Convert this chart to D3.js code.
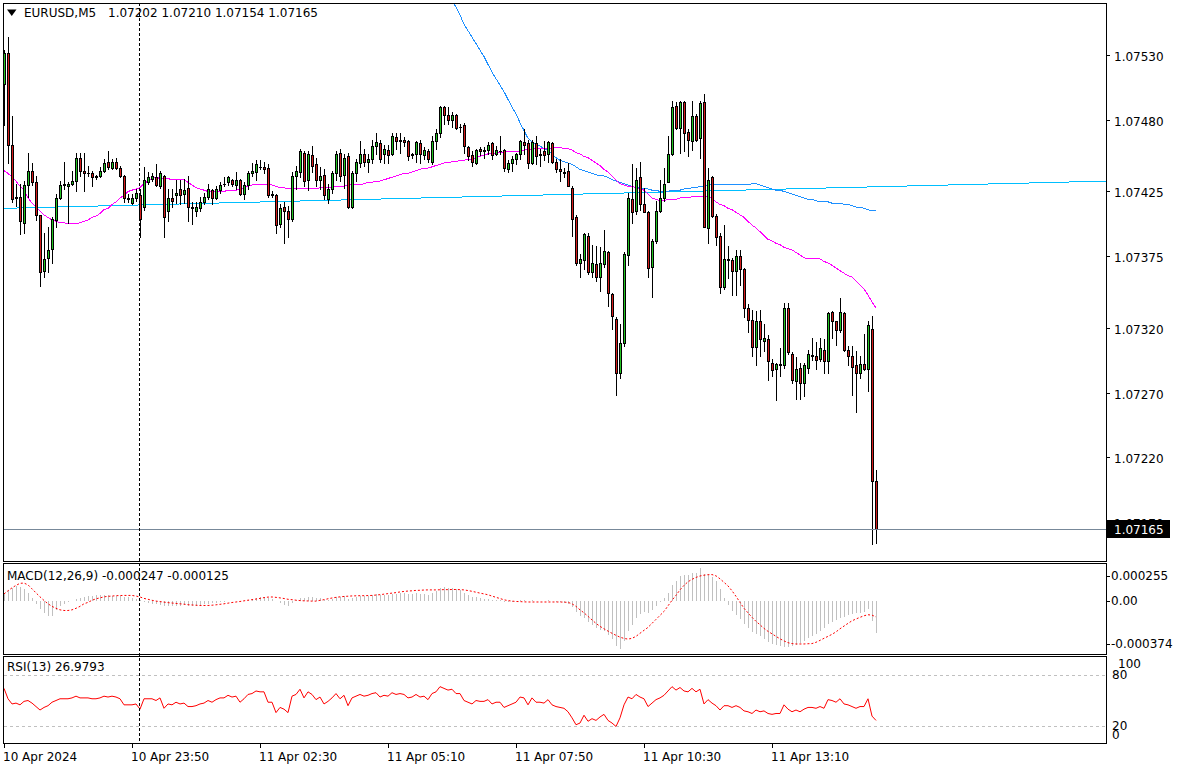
<!DOCTYPE html>
<html><head><meta charset="utf-8">
<script src="https://cdn.jsdelivr.net/npm/d3@7"></script>
<style>
body{margin:0;background:#fff}
svg{display:block}
text{font-family:"DejaVu Sans",sans-serif;font-size:12px;fill:#000}
</style></head>
<body><svg id="c" width="1178" height="771"></svg>
<script>
// ---------------- DATA ----------------
const symbolTitle = "EURUSD,M5";
const headerValues = "1.07202 1.07210 1.07154 1.07165";
const macdTitle = "MACD(12,26,9) -0.000247 -0.000125";
const rsiTitle = "RSI(13) 26.9793";

const open = [1.07508,1.07532,1.07461,1.07420,1.07421,1.07401,1.07430,1.07441,1.07432,1.07407,
1.07364,1.07374,1.07381,1.07403,1.07420,1.07430,1.07429,1.07431,1.07433,1.07451,
1.07441,1.07439,1.07439,1.07436,1.07437,1.07441,1.07448,1.07443,1.07448,1.07443,
1.07437,1.07420,1.07416,1.07420,1.07422,1.07413,1.07432,1.07435,1.07436,1.07429,
1.07437,1.07410,1.07420,1.07422,1.07427,1.07423,1.07428,1.07413,1.07410,1.07412,
1.07417,1.07421,1.07426,1.07420,1.07426,1.07431,1.07432,1.07434,1.07430,1.07434,
1.07423,1.07430,1.07439,1.07440,1.07444,1.07444,1.07443,1.07422,1.07422,1.07400,
1.07413,1.07410,1.07404,1.07437,1.07440,1.07455,1.07434,1.07453,1.07446,1.07434,
1.07438,1.07419,1.07427,1.07439,1.07455,1.07438,1.07452,1.07413,1.07439,1.07447,
1.07454,1.07448,1.07450,1.07460,1.07462,1.07454,1.07457,1.07454,1.07467,1.07464,
1.07465,1.07464,1.07453,1.07454,1.07462,1.07453,1.07456,1.07448,1.07464,1.07470,
1.07490,1.07484,1.07480,1.07484,1.07475,1.07476,1.07459,1.07453,1.07447,1.07458,
1.07456,1.07457,1.07462,1.07454,1.07456,1.07457,1.07442,1.07447,1.07450,1.07454,
1.07463,1.07462,1.07447,1.07462,1.07454,1.07456,1.07454,1.07462,1.07448,1.07442,
1.07440,1.07441,1.07428,1.07405,1.07370,1.07372,1.07391,1.07363,1.07369,1.07359,
1.07369,1.07378,1.07346,1.07327,1.07285,1.07308,1.07376,1.07419,1.07410,1.07436,
1.07415,1.07409,1.07367,1.07387,1.07410,1.07420,1.07432,1.07454,1.07491,1.07474,
1.07494,1.07471,1.07464,1.07483,1.07466,1.07494,1.07397,1.07436,1.07406,1.07391,
1.07351,1.07373,1.07372,1.07364,1.07375,1.07365,1.07335,1.07326,1.07305,1.07325,
1.07310,1.07311,1.07293,1.07288,1.07291,1.07291,1.07335,1.07300,1.07279,1.07289,
1.07277,1.07289,1.07299,1.07298,1.07296,1.07303,1.07294,1.07332,1.07325,1.07318,
1.07331,1.07303,1.07298,1.07291,1.07285,1.07292,1.07288,1.07319,1.07202];

const high = [1.07534,1.07544,1.07483,1.07431,1.07431,1.07433,1.07455,1.07447,1.07437,1.07407,
1.07393,1.07398,1.07405,1.07423,1.07433,1.07448,1.07432,1.07441,1.07455,1.07455,
1.07455,1.07445,1.07441,1.07438,1.07444,1.07450,1.07456,1.07450,1.07451,1.07445,
1.07438,1.07423,1.07423,1.07427,1.07427,1.07444,1.07440,1.07439,1.07446,1.07441,
1.07438,1.07427,1.07427,1.07434,1.07434,1.07435,1.07437,1.07417,1.07417,1.07421,
1.07424,1.07431,1.07427,1.07429,1.07432,1.07436,1.07437,1.07435,1.07440,1.07435,
1.07432,1.07441,1.07447,1.07449,1.07449,1.07448,1.07446,1.07425,1.07423,1.07415,
1.07417,1.07414,1.07440,1.07445,1.07458,1.07456,1.07456,1.07460,1.07451,1.07444,
1.07442,1.07431,1.07441,1.07456,1.07458,1.07454,1.07455,1.07441,1.07450,1.07464,
1.07458,1.07454,1.07465,1.07470,1.07465,1.07461,1.07461,1.07470,1.07470,1.07470,
1.07467,1.07465,1.07455,1.07464,1.07465,1.07459,1.07458,1.07468,1.07473,1.07491,
1.07491,1.07490,1.07486,1.07485,1.07477,1.07478,1.07460,1.07456,1.07458,1.07459,
1.07459,1.07463,1.07463,1.07460,1.07468,1.07458,1.07449,1.07452,1.07455,1.07465,
1.07473,1.07465,1.07465,1.07468,1.07458,1.07464,1.07464,1.07463,1.07450,1.07450,
1.07443,1.07447,1.07429,1.07407,1.07377,1.07393,1.07393,1.07384,1.07383,1.07382,
1.07395,1.07379,1.07347,1.07328,1.07323,1.07378,1.07424,1.07446,1.07443,1.07448,
1.07428,1.07410,1.07388,1.07418,1.07434,1.07443,1.07468,1.07495,1.07494,1.07495,
1.07495,1.07473,1.07495,1.07485,1.07495,1.07500,1.07443,1.07437,1.07408,1.07393,
1.07399,1.07383,1.07374,1.07380,1.07380,1.07366,1.07338,1.07334,1.07333,1.07334,
1.07323,1.07314,1.07296,1.07293,1.07304,1.07339,1.07339,1.07301,1.07297,1.07293,
1.07293,1.07303,1.07312,1.07309,1.07312,1.07311,1.07332,1.07333,1.07325,1.07343,
1.07332,1.07306,1.07306,1.07302,1.07298,1.07315,1.07325,1.07329,1.07210];

const low = [1.07476,1.07447,1.07417,1.07414,1.07392,1.07393,1.07421,1.07430,1.07403,1.07352,
1.07359,1.07363,1.07370,1.07398,1.07419,1.07427,1.07401,1.07430,1.07425,1.07437,
1.07425,1.07437,1.07429,1.07435,1.07436,1.07440,1.07442,1.07442,1.07442,1.07436,
1.07417,1.07417,1.07415,1.07418,1.07390,1.07411,1.07431,1.07433,1.07429,1.07428,
1.07390,1.07402,1.07413,1.07416,1.07415,1.07416,1.07402,1.07400,1.07406,1.07410,
1.07415,1.07419,1.07415,1.07419,1.07424,1.07429,1.07430,1.07429,1.07427,1.07422,
1.07419,1.07427,1.07437,1.07434,1.07442,1.07439,1.07421,1.07421,1.07393,1.07398,
1.07385,1.07390,1.07402,1.07427,1.07436,1.07429,1.07426,1.07440,1.07429,1.07427,
1.07419,1.07416,1.07424,1.07434,1.07433,1.07428,1.07412,1.07412,1.07433,1.07444,
1.07445,1.07440,1.07447,1.07454,1.07448,1.07447,1.07447,1.07453,1.07458,1.07455,
1.07460,1.07449,1.07451,1.07448,1.07447,1.07450,1.07448,1.07446,1.07458,1.07467,
1.07477,1.07477,1.07475,1.07473,1.07471,1.07455,1.07449,1.07445,1.07446,1.07453,
1.07451,1.07454,1.07450,1.07453,1.07454,1.07441,1.07440,1.07441,1.07446,1.07450,
1.07454,1.07443,1.07446,1.07446,1.07445,1.07449,1.07448,1.07447,1.07440,1.07433,
1.07436,1.07429,1.07391,1.07368,1.07359,1.07365,1.07361,1.07359,1.07356,1.07348,
1.07367,1.07337,1.07319,1.07268,1.07281,1.07306,1.07368,1.07401,1.07408,1.07411,
1.07409,1.07359,1.07344,1.07385,1.07409,1.07418,1.07432,1.07453,1.07473,1.07455,
1.07456,1.07452,1.07457,1.07464,1.07451,1.07398,1.07385,1.07405,1.07384,1.07347,
1.07350,1.07358,1.07345,1.07345,1.07353,1.07328,1.07317,1.07298,1.07291,1.07298,
1.07302,1.07280,1.07283,1.07264,1.07283,1.07289,1.07300,1.07277,1.07265,1.07265,
1.07267,1.07285,1.07295,1.07288,1.07294,1.07285,1.07285,1.07312,1.07307,1.07317,
1.07302,1.07291,1.07268,1.07255,1.07281,1.07287,1.07271,1.07153,1.07154];

const close = [1.07532,1.07461,1.07419,1.07421,1.07402,1.07430,1.07441,1.07432,1.07407,1.07363,
1.07373,1.07380,1.07404,1.07420,1.07430,1.07431,1.07431,1.07433,1.07451,1.07441,
1.07439,1.07439,1.07436,1.07437,1.07441,1.07447,1.07444,1.07448,1.07443,1.07437,
1.07420,1.07419,1.07420,1.07424,1.07404,1.07434,1.07436,1.07437,1.07430,1.07439,
1.07405,1.07420,1.07418,1.07424,1.07422,1.07426,1.07413,1.07412,1.07413,1.07417,
1.07421,1.07427,1.07420,1.07427,1.07430,1.07431,1.07436,1.07431,1.07434,1.07423,
1.07430,1.07439,1.07441,1.07446,1.07444,1.07442,1.07422,1.07423,1.07399,1.07412,
1.07410,1.07404,1.07437,1.07441,1.07456,1.07433,1.07454,1.07445,1.07434,1.07437,
1.07422,1.07427,1.07439,1.07454,1.07437,1.07451,1.07413,1.07439,1.07448,1.07454,
1.07448,1.07450,1.07460,1.07463,1.07450,1.07458,1.07453,1.07468,1.07464,1.07465,
1.07463,1.07452,1.07454,1.07463,1.07454,1.07457,1.07450,1.07464,1.07470,1.07490,
1.07484,1.07480,1.07484,1.07474,1.07475,1.07460,1.07452,1.07448,1.07457,1.07456,
1.07457,1.07461,1.07453,1.07457,1.07456,1.07443,1.07447,1.07450,1.07454,1.07464,
1.07461,1.07447,1.07463,1.07452,1.07453,1.07453,1.07463,1.07448,1.07442,1.07441,
1.07439,1.07429,1.07404,1.07370,1.07373,1.07392,1.07363,1.07370,1.07359,1.07370,
1.07379,1.07347,1.07329,1.07285,1.07308,1.07377,1.07420,1.07409,1.07434,1.07415,
1.07409,1.07366,1.07387,1.07410,1.07420,1.07431,1.07454,1.07490,1.07474,1.07494,
1.07470,1.07465,1.07483,1.07465,1.07493,1.07398,1.07434,1.07406,1.07390,1.07351,
1.07373,1.07372,1.07364,1.07375,1.07365,1.07335,1.07326,1.07305,1.07325,1.07311,
1.07312,1.07294,1.07287,1.07292,1.07292,1.07335,1.07301,1.07280,1.07288,1.07277,
1.07291,1.07300,1.07298,1.07295,1.07304,1.07294,1.07331,1.07325,1.07318,1.07332,
1.07303,1.07298,1.07290,1.07285,1.07292,1.07288,1.07322,1.07202,1.07165];

const maMagenta = [1.07441,1.07439,1.07436,1.07433,1.07429,1.07426,1.07420,1.07416,1.07413,1.07410,
1.07407,1.07405,1.07403,1.07402,1.07401,1.07401,1.07400,1.07400,1.07400,1.07401,
1.07402,1.07403,1.07405,1.07406,1.07408,1.07411,1.07412,1.07415,1.07417,1.07420,
1.07422,1.07425,1.07426,1.07427,1.07428,1.07431,1.07433,1.07435,1.07436,1.07435,
1.07435,1.07435,1.07434,1.07434,1.07434,1.07434,1.07432,1.07430,1.07428,1.07427,
1.07426,1.07425,1.07425,1.07425,1.07425,1.07425,1.07426,1.07426,1.07426,1.07427,
1.07428,1.07429,1.07430,1.07430,1.07430,1.07430,1.07430,1.07430,1.07429,1.07428,
1.07428,1.07427,1.07427,1.07427,1.07427,1.07427,1.07427,1.07427,1.07427,1.07428,
1.07428,1.07428,1.07428,1.07429,1.07429,1.07429,1.07430,1.07430,1.07430,1.07430,
1.07431,1.07432,1.07432,1.07433,1.07433,1.07434,1.07435,1.07436,1.07437,1.07438,
1.07439,1.07439,1.07440,1.07441,1.07442,1.07443,1.07443,1.07444,1.07445,1.07446,
1.07447,1.07447,1.07448,1.07448,1.07449,1.07449,1.07450,1.07450,1.07451,1.07452,
1.07453,1.07454,1.07454,1.07455,1.07455,1.07455,1.07456,1.07456,1.07456,1.07456,
1.07457,1.07457,1.07458,1.07458,1.07458,1.07458,1.07458,1.07458,1.07459,1.07459,
1.07458,1.07458,1.07457,1.07455,1.07454,1.07452,1.07451,1.07449,1.07447,1.07445,
1.07442,1.07440,1.07437,1.07434,1.07431,1.07430,1.07429,1.07429,1.07428,1.07427,
1.07426,1.07423,1.07420,1.07419,1.07418,1.07418,1.07419,1.07419,1.07419,1.07420,
1.07420,1.07420,1.07421,1.07421,1.07421,1.07421,1.07421,1.07420,1.07417,1.07415,
1.07414,1.07412,1.07411,1.07409,1.07407,1.07405,1.07402,1.07399,1.07397,1.07394,
1.07391,1.07388,1.07387,1.07385,1.07384,1.07382,1.07381,1.07380,1.07378,1.07376,
1.07374,1.07373,1.07373,1.07373,1.07373,1.07371,1.07370,1.07368,1.07366,1.07364,
1.07362,1.07360,1.07359,1.07356,1.07353,1.07350,1.07345,1.07340,1.07335];

const maBlueStart = 111;
const maBlue = [1.07579,1.07573,1.07567,1.07561,1.07554,1.07549,1.07544,1.07539,1.07534,1.07529,
1.07523,1.07517,1.07512,1.07507,1.07502,1.07496,1.07490,1.07485,1.07478,1.07472,
1.07466,1.07463,1.07461,1.07460,1.07458,1.07457,1.07454,1.07451,1.07449,1.07448,
1.07447,1.07446,1.07444,1.07442,1.07441,1.07440,1.07439,1.07438,1.07437,1.07437,
1.07436,1.07434,1.07433,1.07432,1.07431,1.07430,1.07429,1.07428,1.07428,1.07427,
1.07427,1.07426,1.07426,1.07425,1.07425,1.07425,1.07426,1.07426,1.07426,1.07427,
1.07427,1.07428,1.07428,1.07429,1.07429,1.07430,1.07430,1.07430,1.07430,1.07430,
1.07430,1.07430,1.07430,1.07430,1.07430,1.07430,1.07431,1.07431,1.07430,1.07429,
1.07428,1.07427,1.07426,1.07426,1.07425,1.07424,1.07423,1.07422,1.07421,1.07420,
1.07419,1.07419,1.07418,1.07417,1.07417,1.07417,1.07416,1.07416,1.07416,1.07415,
1.07415,1.07414,1.07413,1.07413,1.07412,1.07411,1.07410,1.07410];

// trendline object (bar index, price)
const trendBars = [-0.25, 275.5];
const trendPrices = [1.07412, 1.07433];

const macdMain = [62e-6,85e-6,101e-6,116e-6,109e-6,93e-6,62e-6,23e-6,-23e-6,-62e-6,
-93e-6,-116e-6,-116e-6,-70e-6,-39e-6,-23e-6,-8e-6,0,16e-6,23e-6,
31e-6,39e-6,39e-6,47e-6,47e-6,47e-6,47e-6,39e-6,39e-6,39e-6,
31e-6,31e-6,23e-6,16e-6,8e-6,-8e-6,-16e-6,-23e-6,-23e-6,-31e-6,
-39e-6,-39e-6,-39e-6,-39e-6,-39e-6,-31e-6,-39e-6,-39e-6,-39e-6,-31e-6,
-23e-6,-23e-6,-16e-6,-16e-6,-8e-6,-8e-6,0,2e-6,-2e-6,1e-6,
0,8e-6,16e-6,23e-6,31e-6,31e-6,23e-6,16e-6,0,-16e-6,
-31e-6,-39e-6,-16e-6,8e-6,23e-6,23e-6,31e-6,31e-6,23e-6,23e-6,
8e-6,8e-6,16e-6,31e-6,31e-6,39e-6,16e-6,23e-6,31e-6,39e-6,
39e-6,39e-6,47e-6,54e-6,47e-6,47e-6,47e-6,54e-6,54e-6,62e-6,
62e-6,54e-6,54e-6,62e-6,54e-6,54e-6,47e-6,62e-6,78e-6,101e-6,
109e-6,101e-6,101e-6,93e-6,85e-6,62e-6,47e-6,31e-6,31e-6,23e-6,
16e-6,16e-6,8e-6,8e-6,8e-6,-8e-6,-8e-6,-8e-6,0,8e-6,
8e-6,0,8e-6,1e-6,-1e-6,0,8e-6,0,-8e-6,-8e-6,
-16e-6,-23e-6,-47e-6,-85e-6,-116e-6,-132e-6,-163e-6,-186e-6,-210e-6,-225e-6,
-233e-6,-264e-6,-295e-6,-349e-6,-374e-6,-311e-6,-233e-6,-186e-6,-132e-6,-101e-6,
-85e-6,-93e-6,-70e-6,-39e-6,-8e-6,23e-6,62e-6,124e-6,155e-6,194e-6,
202e-6,202e-6,217e-6,217e-6,255e-6,210e-6,202e-6,186e-6,155e-6,93e-6,
23e-6,-31e-6,-78e-6,-109e-6,-140e-6,-179e-6,-210e-6,-241e-6,-256e-6,-272e-6,
-295e-6,-318e-6,-334e-6,-342e-6,-349e-6,-360e-6,-357e-6,-349e-6,-342e-6,-326e-6,
-311e-6,-287e-6,-272e-6,-256e-6,-233e-6,-210e-6,-179e-6,-163e-6,-148e-6,-132e-6,
-124e-6,-109e-6,-101e-6,-93e-6,-93e-6,-85e-6,-62e-6,-155e-6,-247e-6];

const macdSignal = [54e-6,78e-6,101e-6,120e-6,136e-6,138e-6,124e-6,93e-6,62e-6,31e-6,
3e-6,-23e-6,-43e-6,-58e-6,-70e-6,-75e-6,-75e-6,-70e-6,-58e-6,-43e-6,
-23e-6,-12e-6,4e-6,16e-6,23e-6,31e-6,35e-6,37e-6,40e-6,41e-6,
42e-6,42e-6,42e-6,37e-6,30e-6,19e-6,12e-6,4e-6,-2e-6,-6e-6,
-10e-6,-14e-6,-17e-6,-20e-6,-23e-6,-26e-6,-30e-6,-32e-6,-34e-6,-36e-6,
-36e-6,-36e-6,-34e-6,-31e-6,-27e-6,-23e-6,-18e-6,-13e-6,-9e-6,-5e-6,
0,5e-6,9e-6,14e-6,19e-6,25e-6,29e-6,30e-6,27e-6,23e-6,
18e-6,12e-6,9e-6,5e-6,2e-6,0,-1e-6,-2e-6,-2e-6,4e-6,
9e-6,16e-6,22e-6,27e-6,31e-6,34e-6,36e-6,38e-6,39e-6,40e-6,
40e-6,41e-6,42e-6,45e-6,48e-6,52e-6,56e-6,60e-6,64e-6,69e-6,
73e-6,76e-6,78e-6,81e-6,82e-6,84e-6,85e-6,85e-6,85e-6,86e-6,
87e-6,87e-6,88e-6,88e-6,87e-6,85e-6,80e-6,74e-6,67e-6,60e-6,
54e-6,47e-6,37e-6,27e-6,18e-6,8e-6,2e-6,-2e-6,-5e-6,-6e-6,
-8e-6,-9e-6,-9e-6,-9e-6,-9e-6,-9e-6,-9e-6,-9e-6,-9e-6,-9e-6,
-10e-6,-12e-6,-23e-6,-43e-6,-70e-6,-93e-6,-120e-6,-148e-6,-175e-6,-198e-6,
-217e-6,-235e-6,-252e-6,-268e-6,-282e-6,-292e-6,-297e-6,-291e-6,-276e-6,-252e-6,
-229e-6,-206e-6,-175e-6,-144e-6,-113e-6,-82e-6,-39e-6,4e-6,43e-6,85e-6,
120e-6,148e-6,167e-6,182e-6,193e-6,199e-6,203e-6,204e-6,194e-6,171e-6,
144e-6,116e-6,78e-6,35e-6,-12e-6,-58e-6,-93e-6,-128e-6,-159e-6,-186e-6,
-214e-6,-237e-6,-256e-6,-276e-6,-295e-6,-311e-6,-325e-6,-332e-6,-335e-6,-335e-6,
-335e-6,-333e-6,-332e-6,-322e-6,-307e-6,-291e-6,-276e-6,-260e-6,-241e-6,-217e-6,
-196e-6,-175e-6,-155e-6,-141e-6,-128e-6,-116e-6,-108e-6,-111e-6,-125e-6];

const rsi = [64,52,46,47,45,49,50,47,43,39,
42,44,48,50,52,52,52,53,55,53,
53,53,52,52,53,55,54,55,54,52,
45,45,45,46,40,52,52,52,50,53,
41,46,45,48,46,47,43,43,44,46,
47,50,48,51,53,53,56,54,55,48,
52,57,58,61,60,60,48,48,36,42,
40,36,55,57,63,53,60,57,51,54,
46,49,53,58,52,56,44,53,55,57,
55,56,58,59,54,56,55,59,57,58,
57,53,54,57,54,55,51,58,60,66,
64,62,63,58,58,50,48,46,50,49,
49,51,46,48,48,42,44,46,48,54,
53,45,53,48,48,47,51,45,43,42,
41,37,30,22,24,33,26,29,27,31,
34,27,24,20,30,45,54,52,57,54,
52,43,47,51,53,56,61,66,62,65,
61,60,64,60,63,46,51,47,44,39,
44,44,42,44,42,38,37,35,39,37,
38,35,34,35,35,45,40,37,39,37,
40,42,42,41,43,41,51,50,48,52,
46,45,43,41,43,43,52,32,26.9793];

const priceTicks = [1.07530,1.07480,1.07425,1.07375,1.07320,1.07270,1.07220,1.07170];
const currentPrice = 1.07165;
const macdTickLabels = ["0.000255","0.00","-0.000374"];
const macdRange = [-0.000374, 0.000255];
const rsiLevels = [80, 20];
const rsiTickLabels = ["100","80","20","0"];
const timeTickBars = [0,32,64,96,128,160,192];
const timeLabels = ["10 Apr 2024","10 Apr 23:50","11 Apr 02:30","11 Apr 05:10","11 Apr 07:50","11 Apr 10:30","11 Apr 13:10"];
const separatorBar = 34;

// ---------------- DRAW ----------------
const svg = d3.select("#c");
const L = 3, R = 1106;
const panels = {main:[3,561], macd:[563,654], rsi:[656,743]};

const x = d3.scaleLinear().domain([0, 275.5]).range([4, 1106]);
const yMain = d3.scaleLinear().domain([1.07530, 1.07165]).range([55.3, 528.7]);
const yMacd = d3.scaleLinear().domain(macdRange).range([649, 568]);
const yRsi = d3.scaleLinear().domain([0, 100]).range([743.8, 657.2]);

const defs = svg.append("defs");
function clip(id, y0, y1){
  defs.append("clipPath").attr("id", id).append("rect")
    .attr("x", L + 1).attr("y", y0 + 1).attr("width", R - L - 1).attr("height", y1 - y0 - 1);
}
clip("cm", ...panels.main); clip("cd", ...panels.macd); clip("cr", ...panels.rsi);

svg.append("rect").attr("width",1178).attr("height",771).attr("fill","#fff");

// ---- main panel ----
const gm = svg.append("g").attr("clip-path","url(#cm)");

// trendline
gm.append("path")
  .attr("d", d3.line()([[x(trendBars[0]), yMain(trendPrices[0])],[x(trendBars[1]), yMain(trendPrices[1])]]))
  .attr("stroke","#00bfff").attr("fill","none").attr("stroke-width",1).attr("shape-rendering","crispEdges");

// blue MA
gm.append("path").datum(maBlue)
  .attr("d", d3.line().x((d,i)=>x(i+maBlueStart)).y(d=>yMain(d)))
  .attr("stroke","#1e90ff").attr("fill","none").attr("stroke-width",1).attr("shape-rendering","crispEdges");

// magenta MA
gm.append("path").datum(maMagenta)
  .attr("d", d3.line().x((d,i)=>x(i)).y(d=>yMain(d)))
  .attr("stroke","#ff00ff").attr("fill","none").attr("stroke-width",1).attr("shape-rendering","crispEdges");

// candles
const candles = d3.range(open.length).map(i=>({i,o:open[i],h:high[i],l:low[i],c:close[i]}));
const cg = gm.append("g").attr("shape-rendering","crispEdges");
candles.forEach(d=>{
  const cx = Math.round(x(d.i));
  const yh = Math.round(yMain(d.h)), yl = Math.round(yMain(d.l));
  cg.append("rect").attr("x",cx).attr("y",yh).attr("width",1).attr("height",yl-yh+1).attr("fill","#000");
  const top = Math.round(yMain(Math.max(d.o,d.c))), bot = Math.round(yMain(Math.min(d.o,d.c)));
  cg.append("rect").attr("x",cx-1).attr("y",top).attr("width",3).attr("height",Math.max(1,bot-top+1)).attr("fill","#000");
  if (bot - top >= 2) {
    cg.append("rect").attr("x",cx).attr("y",top+1).attr("width",1).attr("height",bot-top-1)
      .attr("fill", d.c > d.o ? "#22c322" : "#d41c1c");
  }
});

// current price line
const cpY = Math.round(yMain(currentPrice)) + 0.5;
svg.append("line").attr("x1",L).attr("x2",R).attr("y1",cpY).attr("y2",cpY)
  .attr("stroke","#778899").attr("stroke-width",1);

// ---- MACD panel ----
const gd = svg.append("g").attr("clip-path","url(#cd)");
const zeroY = yMacd(0);
gd.append("g").attr("shape-rendering","crispEdges").selectAll("line").data(macdMain).join("line")
  .attr("x1",(d,i)=>Math.round(x(i))+0.5).attr("x2",(d,i)=>Math.round(x(i))+0.5)
  .attr("y1",zeroY).attr("y2",d=>yMacd(d))
  .attr("stroke","#c0c0c0").attr("stroke-width",1);
gd.append("path").datum(macdSignal)
  .attr("d", d3.line().x((d,i)=>x(i)).y(d=>yMacd(d)))
  .attr("stroke","#ff0000").attr("fill","none").attr("stroke-width",1).attr("stroke-dasharray","2,2");

// ---- RSI panel ----
const gr = svg.append("g").attr("clip-path","url(#cr)");
rsiLevels.forEach(v=>{
  const yy = Math.round(yRsi(v)) + 0.5;
  svg.append("line").attr("x1",L+1).attr("x2",R).attr("y1",yy).attr("y2",yy)
    .attr("stroke","#c0c0c0").attr("stroke-dasharray","3,3").attr("stroke-width",1);
});
gr.append("path").datum(rsi)
  .attr("d", d3.line().x((d,i)=>x(i)).y(d=>yRsi(d)))
  .attr("stroke","#ff0000").attr("fill","none").attr("stroke-width",1);

// ---- separator ----
const sx = Math.round(x(separatorBar)) - 0.5;
svg.append("line").attr("x1",sx).attr("x2",sx).attr("y1",3).attr("y2",743)
  .attr("stroke","#000").attr("stroke-width",1).attr("stroke-dasharray","3,2");

// ---- frames ----
Object.values(panels).forEach(([y0,y1])=>{
  svg.append("rect").attr("x",L+0.5).attr("y",y0+0.5).attr("width",R-L).attr("height",y1-y0)
    .attr("fill","none").attr("stroke","#000").attr("stroke-width",1);
});

// ---- price axis ----
const ax = svg.append("g");
priceTicks.forEach(p=>{
  const yy = Math.round(yMain(p)) + 0.5;
  ax.append("line").attr("x1",R).attr("x2",R+4).attr("y1",yy).attr("y2",yy).attr("stroke","#000");
  ax.append("text").attr("x",1114).attr("y",yy+1.5).attr("dy","0.35em").text(p.toFixed(5));
});
// current price box
ax.append("rect").attr("x",1107).attr("y",Math.round(yMain(currentPrice))-9).attr("width",63).attr("height",18).attr("fill","#000");
ax.append("text").attr("x",1114).attr("y",Math.round(yMain(currentPrice))+1).attr("dy","0.35em")
  .style("fill","#fff").text(currentPrice.toFixed(5));

// MACD axis
const macdLabelY = [576, 601, 644];
macdTickLabels.forEach((t,k)=>{
  ax.append("line").attr("x1",R).attr("x2",R+4).attr("y1",macdLabelY[k]+0.5).attr("y2",macdLabelY[k]+0.5).attr("stroke","#000");
  ax.append("text").attr("x",1111).attr("y",macdLabelY[k]).attr("dy","0.35em").text(t);
});
// RSI axis
const rsiLabelPos = [[1118,664],[1112,675],[1112,726],[1112,735]];
rsiTickLabels.forEach((t,k)=>{
  ax.append("text").attr("x",rsiLabelPos[k][0]).attr("y",rsiLabelPos[k][1]).attr("dy","0.35em").text(t);
});

// ---- time axis ----
timeTickBars.forEach((b,k)=>{
  const tx = Math.round(x(b)) + 0.5;
  svg.append("line").attr("x1",tx).attr("x2",tx).attr("y1",743).attr("y2",748).attr("stroke","#000");
  svg.append("text").attr("x",Math.round(x(b))-1).attr("y",757).attr("dy","0.35em").text(timeLabels[k]);
});

// ---- titles ----
svg.append("path").attr("d","M7,9.5 L16.5,9.5 L11.75,16 Z").attr("fill","#000");
svg.append("text").attr("x",24).attr("y",13).attr("dy","0.35em").text(symbolTitle);
svg.append("text").attr("x",108).attr("y",13).attr("dy","0.35em").text(headerValues);
svg.append("text").attr("x",7).attr("y",576).attr("dy","0.35em").text(macdTitle);
svg.append("text").attr("x",7).attr("y",667).attr("dy","0.35em").text(rsiTitle);
</script>
</body></html>
